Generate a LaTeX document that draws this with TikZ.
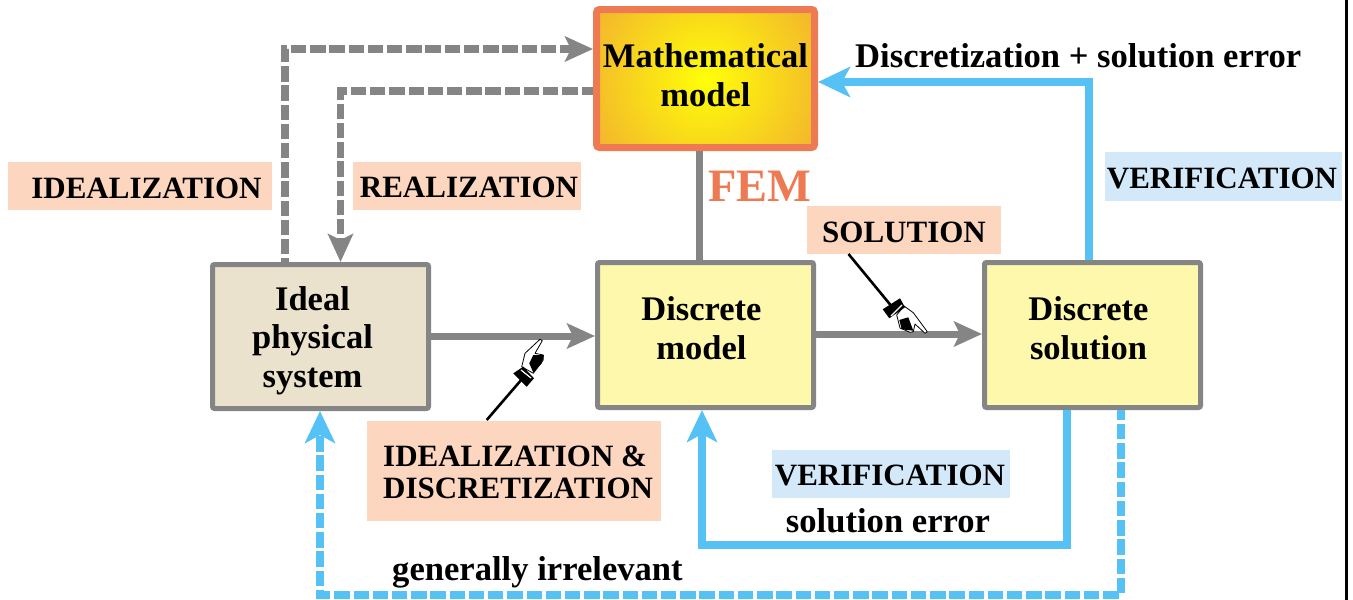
\documentclass[tikz,border=0pt]{standalone}
\usepackage{fontspec}
\setmainfont{Liberation Serif}
\usetikzlibrary{arrows.meta,calc}
\definecolor{grayline}{HTML}{858585}
\definecolor{bluel}{HTML}{56C1F5}
\definecolor{peach}{HTML}{FCD6BF}
\definecolor{lblue}{HTML}{D3E9F9}
\definecolor{yel}{HTML}{FEF8AC}
\definecolor{tanbox}{HTML}{EAE2CC}
\definecolor{oran}{HTML}{EE7A53}
\definecolor{gold}{HTML}{EF9F38}
\tikzset{
 boxfont/.style={font=\fontsize{34.5}{38.5}\selectfont\bfseries,align=center,inner sep=0pt},
 boxstyle/.style={draw=grayline,line width=5pt,rounded corners=2pt,anchor=north west,inner sep=0pt,minimum width=216pt,minimum height=145pt},
 tagbox/.style={inner sep=0pt,anchor=north west},
 tagtext/.style={inner sep=0pt,font=\fontsize{31}{32}\selectfont\bfseries},
 txt/.style={inner sep=0pt,font=\fontsize{34.6}{38}\selectfont\bfseries},
 gtip/.style={-{Stealth[length=28pt,width=25pt,inset=6pt]}},
 btip/.style={-{Stealth[length=32pt,width=30pt,inset=8pt]}},
 grayconn/.style={draw=grayline,line width=7pt,gtip},
 grayplain/.style={draw=grayline,line width=7pt},
 graydash/.style={draw=grayline,line width=7.5pt,gtip},
 bluesolid/.style={draw=bluel,line width=8pt,btip},
 bluedash/.style={draw=bluel,line width=8pt,btip,dash pattern=on 15.4pt off 3.82pt,dash phase=5.2pt},
 pointer/.style={draw=black,line width=2.6pt},
 handwhite/.style={fill=white,draw=black,line width=.8pt,line join=round},
}
\begin{document}
\begin{tikzpicture}[x=1pt,y=-1pt]
\useasboundingbox (0,0) rectangle (1353,600);
\fill[white] (0,0) rectangle (1353,600);
\draw[black,line width=3pt] (1346,0) -- (1346,600);
% label boxes
\node[tagbox,fill=peach,minimum width=264pt,minimum height=48pt] (lideal) at (8,162) {};
\node[tagtext] (tideal) at (146.5,188.5) {IDEALIZATION};
\node[tagbox,fill=peach,minimum width=228pt,minimum height=48pt] (lreal) at (353,162) {};
\node[tagtext] (treal) at (469,187) {REALIZATION};
\node[tagbox,fill=peach,minimum width=194pt,minimum height=48pt] (lsol) at (807,206) {};
\node[tagtext] (tsol) at (904,232) {SOLUTION};
\node[tagbox,fill=lblue,minimum width=237pt,minimum height=49pt] (lver) at (1105,152) {};
\node[tagtext] (tver) at (1222,178) {VERIFICATION};
\node[tagbox,fill=lblue,minimum width=238pt,minimum height=48pt] (lvertwo) at (772,450) {};
\node[tagtext] (tvertwo) at (890,475) {VERIFICATION};
\node[tagbox,fill=peach,minimum width=294pt,minimum height=100pt] (lidtwo) at (367,421) {};
\node[tagtext,align=left,anchor=west] (tidtwo) at (383,472) {IDEALIZATION \&\\DISCRETIZATION};
% nodes
\node[boxstyle,fill=tanbox,minimum width=216pt,minimum height=144pt,
  label={[boxfont,xshift=-8pt,yshift=-4pt]center:Ideal\\physical\\system}] (ideal) at (210,262) {};
\node[boxstyle,fill=yel,label={[boxfont,xshift=-4pt,yshift=7pt]center:Discrete\\model}] (dmodel) at (595,260) {};
\node[boxstyle,fill=yel,label={[boxfont,xshift=-4pt,yshift=7pt]center:Discrete\\solution}] (dsol) at (982,260) {};
\node[boxstyle,draw=oran,line width=7pt,rounded corners=3pt,fill=gold,minimum width=218pt,minimum height=138pt,
  path picture={\shade[inner color=yellow!97!white,outer color=gold] (path picture bounding box.center) circle (165pt);},
  label={[boxfont,yshift=3.5pt]center:Mathematical\\model}] (math) at (593,6) {};
% coordinates
\coordinate (fx) at (699,200);
\coordinate (a1) at (285,262);
\coordinate (a2) at (285,49);
\coordinate (a3) at (593,49);
\coordinate (b1) at (593,91);
\coordinate (b2) at (340.5,91);
\coordinate (b3) at (340.5,262);
% connectors
\draw[grayplain] (math.south -| fx) -- (dmodel.north -| fx);
\draw[graydash,dash pattern=on 15.4pt off 3.82pt,dash phase=11.7pt] (a1) -- (a2) -- (a3);
\draw[graydash,dash pattern=on 15.4pt off 3.82pt,dash phase=3.9pt] (b1) -- (b2) -- (b3);
\draw[grayconn] (ideal.east |- 0,336) -- (dmodel.west |- 0,336);
\draw[grayconn] (dmodel.east |- 0,334) -- (dsol.west |- 0,334);
\draw[bluesolid] (1089,260) -- (1089,82) -- (math.east |- 0,82);
\draw[bluesolid] (1067,410) -- (1067,545) -- (702,545) -- (702,410);
\draw[bluedash] (1120.7,410) -- (1120.7,594.8) -- (320,594.8) -- (320,411);
% texts
\node[txt,anchor=west,font=\fontsize{46.4}{50}\selectfont\bfseries,text=oran] (fem) at (708,186) {FEM};
\node[txt,anchor=west] (derr) at (855,55.5) {Discretization + solution error};
\node[txt] (serr) at (888,520.5) {solution error};
\node[txt,anchor=west] (girr) at (392,572) {generally irrelevant};
% pointers
\coordinate (ponea) at (848.5,254);
\coordinate (poneb) at (893,308);
\draw[pointer] (ponea) -- (poneb);
\filldraw[handwhite] (896.7,315) -- (904,306) -- (913.3,312.7) -- (927.3,331.7) -- (925,333.3) -- (915,324) -- (913.3,331.7) -- (910,332.3) -- (900,328) -- cycle;
\fill[black] (899.3,320) -- (908.3,317.3) -- (913.3,330.7) -- (901.7,329.3) -- cycle;
\fill[black] (882.7,309.3) -- (900,298.3) -- (905,307.3) -- (889.3,318.3) -- cycle;
\draw[white,line width=1.2pt] (891,316) -- (902,305);
\coordinate (ptwoa) at (486.7,420);
\coordinate (ptwob) at (522,379);
\draw[pointer] (ptwoa) -- (ptwob);
\filldraw[handwhite] (521.7,366.7) -- (525,353.3) -- (540,339.3) -- (542.3,340.7) -- (535,353.3) -- (543.3,355) -- (543.3,360) -- (533.3,373.3) -- cycle;
\fill[black] (533.3,355) -- (544,355) -- (541.7,363.3) -- (533.3,372.7) -- (529.3,363.3) -- cycle;
\fill[black] (513.3,373.3) -- (523.3,366.7) -- (534,378.3) -- (526.7,386.7) -- cycle;
\draw[white,line width=1.2pt] (521,370) -- (531,378);
\end{tikzpicture}
\end{document}
